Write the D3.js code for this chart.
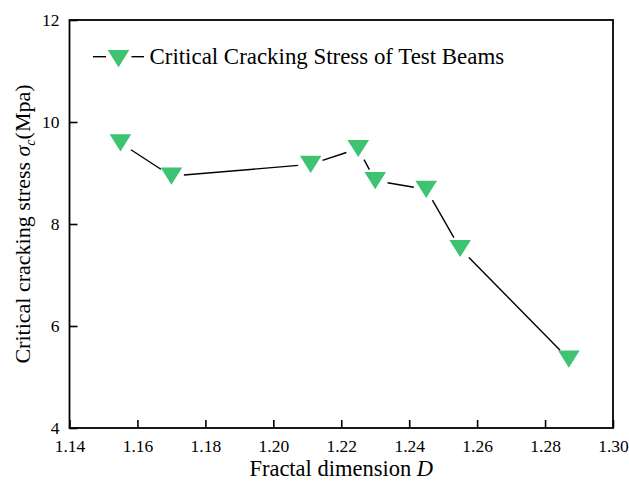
<!DOCTYPE html>
<html>
<head>
<meta charset="utf-8">
<script src="https://cdn.jsdelivr.net/npm/d3@7"></script>
<style>
  html, body { margin: 0; padding: 0; background: #fff; }
  svg text { font-family: "Liberation Serif", "Times New Roman", serif !important; fill: #000; }
</style>
</head>
<body>
<svg id="chart" width="629" height="486"></svg>
<script>
// Fractal dimension D of each test beam
const fractalDim = [1.155, 1.170, 1.211, 1.225, 1.230, 1.245, 1.255, 1.287];
// Critical cracking stress (MPa)
const crackStress = [9.59, 8.94, 9.17, 9.48, 8.85, 8.68, 7.52, 5.35];
const xTicks = [1.14, 1.16, 1.18, 1.20, 1.22, 1.24, 1.26, 1.28, 1.30];
const yTicks = [4, 6, 8, 10, 12];
const seriesName = "Critical Cracking Stress of Test Beams";

const svg = d3.select("#chart");
const plotL = 69.5, plotR = 613, plotT = 20, plotB = 428;
const green = "#3DC372";
const serif = "'Liberation Serif', 'Times New Roman', serif";

const x = d3.scaleLinear().domain([1.14, 1.30]).range([plotL, plotR]);
const y = d3.scaleLinear().domain([4, 12]).range([plotB, plotT]);

// Axes with inward ticks
const xAxis = d3.axisBottom(x).tickValues(xTicks).tickFormat(d3.format(".2f")).tickSizeInner(-8).tickSizeOuter(0).tickPadding(12);
const yAxis = d3.axisLeft(y).tickValues(yTicks).tickFormat(d3.format("d")).tickSizeInner(-8).tickSizeOuter(0).tickPadding(10);

const gx = svg.append("g").attr("transform", `translate(0,${plotB})`).call(xAxis);
const gy = svg.append("g").attr("transform", `translate(${plotL},0)`).call(yAxis);
[gx, gy].forEach(g => {
  g.attr("font-family", serif).attr("font-size", 17.5);
  g.select(".domain").remove();
  g.selectAll(".tick line").attr("stroke", "#000").attr("stroke-width", 1.6);
  g.selectAll(".tick text").attr("fill", "#000");
});

// Frame
svg.append("rect").attr("x", plotL).attr("y", plotT).attr("width", plotR - plotL).attr("height", plotB - plotT)
  .attr("fill", "none").attr("stroke", "#000").attr("stroke-width", 1.8);

// Connecting segments with a gap around each marker
const pts = fractalDim.map((d, i) => [x(d), y(crackStress[i])]);
const gap = 12.5;
const segs = d3.pairs(pts).map(([a, b]) => {
  const dx = b[0] - a[0], dy = b[1] - a[1], len = Math.hypot(dx, dy);
  const ux = dx / len, uy = dy / len;
  return [a[0] + ux * gap, a[1] + uy * gap, b[0] - ux * gap, b[1] - uy * gap, len];
}).filter(s => s[4] > 2 * gap);
svg.append("g").selectAll("line").data(segs).join("line")
  .attr("x1", d => d[0]).attr("y1", d => d[1]).attr("x2", d => d[2]).attr("y2", d => d[3])
  .attr("stroke", "#000").attr("stroke-width", 1.4);

// Down-triangle markers
const tri = (cx, cy) => `M${cx - 10.8},${cy - 8.6}L${cx + 10.8},${cy - 8.6}L${cx},${cy + 8.6}Z`;
svg.append("g").selectAll("path").data(pts).join("path")
  .attr("d", d => tri(d[0], d[1])).attr("fill", green);

// Legend
const lg = svg.append("g");
lg.append("line").attr("x1", 93).attr("x2", 106).attr("y1", 56.7).attr("y2", 56.7).attr("stroke", "#000").attr("stroke-width", 1.4);
lg.append("line").attr("x1", 131.5).attr("x2", 144).attr("y1", 56.7).attr("y2", 56.7).attr("stroke", "#000").attr("stroke-width", 1.4);
lg.append("path").attr("d", tri(118.5, 58.7)).attr("fill", green);
lg.append("text").attr("x", 149.5).attr("y", 63.5).attr("font-size", 22.9).text(seriesName);

// Axis titles
svg.append("text").attr("x", (plotL + plotR) / 2).attr("y", 476).attr("text-anchor", "middle").attr("font-size", 22.5)
  .html('Fractal dimension <tspan font-style="italic">D</tspan>');
svg.append("text").attr("transform", `translate(30,${(plotT + plotB) / 2}) rotate(-90)`).attr("text-anchor", "middle").attr("font-size", 22)
  .html('Critical cracking stress <tspan font-style="italic">σ</tspan><tspan font-style="italic" font-size="14" dy="5">c</tspan><tspan dy="-5">(Mpa)</tspan>');
</script>
</body>
</html>
